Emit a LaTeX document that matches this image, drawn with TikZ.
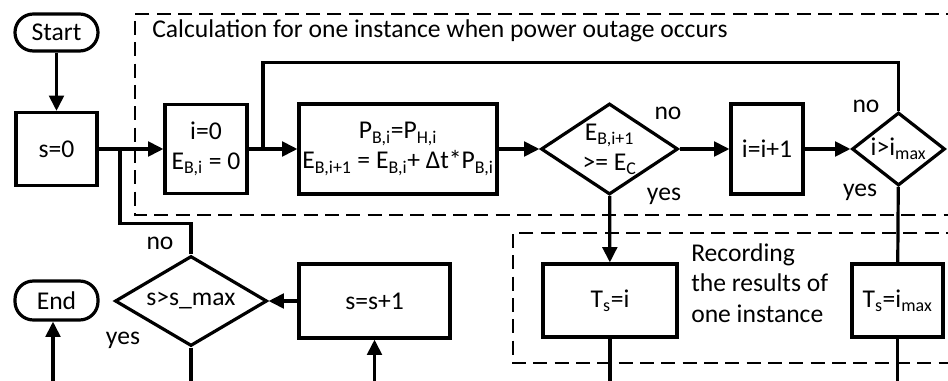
\documentclass[tikz,border=0pt]{standalone}
\usepackage{fontspec}
\setmainfont{Carlito}
\usetikzlibrary{arrows.meta,shapes.geometric}
\newdimen\px \px=0.75pt
\begin{document}
\begin{tikzpicture}[x=0.75pt,y=-0.75pt,
  txt/.style={font=\fontsize{19.2}{22.5}\selectfont},
  base/.style={txt, draw, line width=2.4pt, inner sep=0pt, align=center},
  box/.style={base, rectangle},
  term/.style={base, rectangle, rounded corners=13.8pt},
  dec/.style={base, diamond, aspect=1.5},
  conn/.style={line width=2.4pt},
  arr/.style={conn, -{Triangle[length=11.5pt,width=11pt]}},
  lbl/.style={txt, inner sep=0pt},
  frame/.style={dash pattern=on 10.5pt off 5.5pt, line width=1.5pt}
]
\useasboundingbox (0,0) rectangle (948,381);
% dashed frames
\draw[frame] (960,14) -- (135,14) -- (135,215) -- (960,215);
\draw[frame] (960,233) -- (513,233) -- (513,363) -- (960,363);
\node[lbl, anchor=base west] (title) at (152,38) {Calculation for one instance when power outage occurs};
\node[lbl, anchor=north west, align=left, font=\fontsize{19.2}{23}\selectfont] (rec) at (691,243) {Recording\\the results of\\one instance};

% nodes
\node[term, minimum width=83\px, minimum height=37\px] (start) at (56.5,32.5) {Start};
\node[box, minimum width=81\px, minimum height=73\px] (s0) at (56.5,149) {s=0};
\node[box, minimum width=82\px, minimum height=89\px] (i0) at (206,149) {i=0\\E\textsubscript{B,i} = 0};
\node[box, minimum width=198\px, minimum height=90\px] (pb) at (398,149) {P\textsubscript{B,i}=P\textsubscript{H,i}\\E\textsubscript{B,i+1} = E\textsubscript{B,i}+ Δt*P\textsubscript{B,i}};
\node[dec, minimum width=137\px, minimum height=91\px] (d1) at (609.5,149) {E\textsubscript{B,i+1}\\>= E\textsubscript{C}};
\node[box, minimum width=72\px, minimum height=90\px] (ii) at (767,149) {i=i+1};
\node[dec, minimum width=93\px, minimum height=73\px] (d2) at (898.5,149) {i>i\textsubscript{max}};
\node[box, minimum width=134\px, minimum height=73\px] (ts1) at (610,300.5) {T\textsubscript{s}=i};
\node[box, minimum width=91\px, minimum height=73\px] (ts2) at (897.5,300.5) {T\textsubscript{s}=i\textsubscript{max}};
\node[term, minimum width=83\px, minimum height=39\px] (endn) at (56.5,300.5) {End};
\node[dec, minimum width=152\px, minimum height=90\px] (d3) at (191,301) {s>s\_max};
\node[box, minimum width=151\px, minimum height=74\px] (ss) at (374.5,301) {s=s+1};

% labels
\node[lbl] (no1) at (668,113) {no};
\node[lbl] (yes1) at (664,196) {yes};
\node[lbl] (no2) at (866,106) {no};
\node[lbl] (yes2) at (860,192) {yes};
\node[lbl] (no3) at (160,243) {no};
\node[lbl] (yes3) at (123,340) {yes};

% coordinates
\coordinate (j1) at (120,149);
\coordinate (j2) at (263,149);
\coordinate (b1) at (610,395);
\coordinate (b2) at (897.5,395);
\coordinate (b3) at (53,395);
\coordinate (b4) at (191,395);
\coordinate (b5) at (374.5,395);

% connectors
\draw[arr] (start) -- (s0);
\draw[arr] (s0) -- (i0);
\draw[conn] (d3.north) -- ++(0,-31) -| (j1);
\draw[arr] (i0) -- (pb);
\draw[conn] (d2.north) -- ++(0,-48) -| (j2);
\draw[arr] (pb) -- (d1);
\draw[arr] (d1) -- (ii);
\draw[arr] (ii) -- (d2);
\draw[arr] (d1) -- (ts1);
\draw[conn] (d2) -- (ts2);
\draw[conn] (ts1) -- (b1);
\draw[conn] (ts2) -- (b2);
\draw[arr] (b3) -- (b3 |- endn.south);
\draw[conn] (d3) -- (b4);
\draw[arr] (b5) -- (ss);
\draw[arr] (ss) -- (d3);
\end{tikzpicture}
\end{document}
